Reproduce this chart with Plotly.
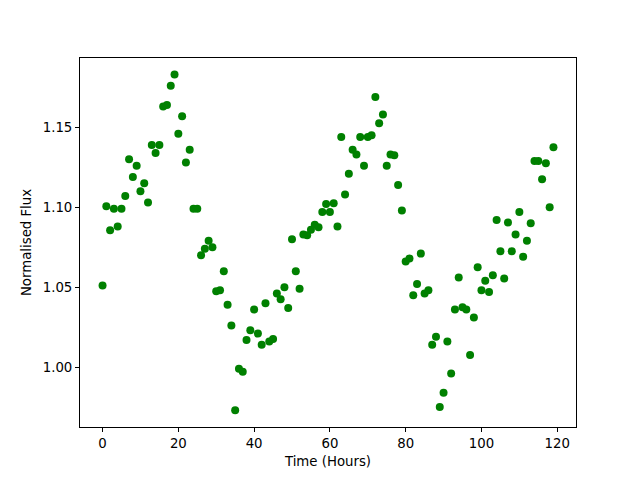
import plotly.graph_objects as go

hours = list(range(120))
flux = [
    1.051, 1.1006, 1.0856, 1.099, 1.088, 1.099, 1.107, 1.130, 1.119, 1.126,
    1.110, 1.115, 1.103, 1.139, 1.134, 1.139, 1.163, 1.164, 1.176, 1.183,
    1.146, 1.157, 1.128, 1.136, 1.099, 1.099, 1.070, 1.074, 1.079, 1.075,
    1.0475, 1.048, 1.060, 1.039, 1.026, 0.973, 0.999, 0.997, 1.017, 1.023,
    1.036, 1.021, 1.014, 1.040, 1.016, 1.0175, 1.046, 1.0425, 1.050, 1.037,
    1.080, 1.060, 1.049, 1.083, 1.0825, 1.086, 1.089, 1.0875, 1.097, 1.102,
    1.097, 1.1025, 1.088, 1.144, 1.108, 1.121, 1.136, 1.133, 1.144, 1.126,
    1.144, 1.145, 1.169, 1.1525, 1.158, 1.126, 1.133, 1.1325, 1.114, 1.098,
    1.066, 1.068, 1.045, 1.052, 1.071, 1.046, 1.048, 1.014, 1.019, 0.975,
    0.984, 1.016, 0.996, 1.036, 1.056, 1.0375, 1.036, 1.0075, 1.031, 1.0625,
    1.048, 1.054, 1.047, 1.0575, 1.092, 1.0725, 1.0555, 1.0905, 1.0725, 1.083,
    1.097, 1.069, 1.079, 1.090, 1.129, 1.129, 1.1175, 1.1275, 1.100, 1.1375,
]
x_ticks = [0, 20, 40, 60, 80, 100, 120]
y_ticks = [1.00, 1.05, 1.10, 1.15]

fig = go.Figure(go.Scatter(
    x=hours, y=flux, mode="markers",
    marker=dict(color="#008000", size=8, line=dict(width=0)),
))

axis_common = dict(
    showline=True, linecolor="black", linewidth=1, mirror=True,
    ticks="outside", ticklen=4, tickcolor="black", tickwidth=1,
    showgrid=False, zeroline=False,
    tickfont=dict(family="DejaVu Sans", size=13.3, color="black"),
)
title_font = dict(family="DejaVu Sans", size=13.3, color="black")
fig.update_layout(
    width=640, height=480,
    margin=dict(l=72, r=72, t=50, b=61),
    paper_bgcolor="white", plot_bgcolor="white",
    showlegend=False,
    font=dict(family="DejaVu Sans", size=13.3, color="black"),
    xaxis=dict(range=[-5.95, 124.95], tickvals=x_ticks,
               title=dict(text="Time (Hours)", standoff=6, font=title_font),
               **axis_common),
    yaxis=dict(range=[0.9625, 1.1934], tickvals=y_ticks, tickformat=".2f",
               title=dict(text="Normalised Flux", standoff=8, font=title_font),
               **axis_common),
)
fig.write_html("out.html")
